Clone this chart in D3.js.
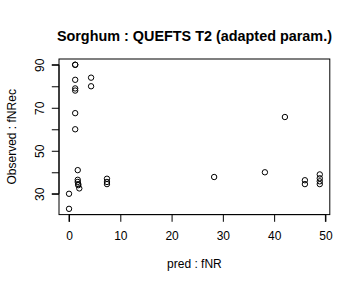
<!DOCTYPE html>
<html>
<head>
<meta charset="utf-8">
<script src="https://cdn.jsdelivr.net/npm/d3@7"></script>
<style>
  body { margin: 0; background: #fff; }
  svg text { font-family: "Liberation Sans", Arial, sans-serif; fill: #000; }
</style>
</head>
<body>
<svg id="svgRoot" width="360" height="288"></svg>
<script>
// predicted vs observed fNRec
const pred = [0, 0, 1.2, 1.2, 1.2, 1.2, 1.2, 1.2, 1.2, 4.3, 4.3,
  1.7, 1.7, 1.7, 1.8, 1.8, 2.0, 7.4, 7.4, 7.4,
  28.3, 38.2, 42.1, 46.0, 46.0, 48.9, 48.9, 48.9, 48.9]
const obs = [23, 30, 90, 90, 83, 79, 78, 67.5, 60, 84, 80,
  41, 36.5, 35.5, 34.5, 34, 32.5, 37, 35.5, 34.5,
  37.8, 40, 65.7, 36.3, 34.5, 39, 37.2, 35.8, 34.5]

const xTicks = [0, 10, 20, 30, 40, 50]
const yTicks = [30, 40, 50, 60, 70, 80, 90]
const yTickLabels = [30, 50, 70, 90]

const title = "Sorghum : QUEFTS T2 (adapted param.)"
const xTitle = "pred : fNR"
const yTitle = "Observed : fNRec"

function draw_vis() {
  let svg = d3.select("#svgRoot")
  const margin = { top: 59, left: 59, bottom: 73.4, right: 30.2 }
  let width = 360
  let height = 288

  // R style 4% range padding
  let ext = (arr) => {
    let lo = d3.min(arr), hi = d3.max(arr), r = hi - lo
    return [lo - 0.04 * r, hi + 0.04 * r]
  }

  let scale_x = d3.scaleLinear().domain(ext(pred)).range([margin.left, width - margin.right])
  let scale_y = d3.scaleLinear().domain(ext(obs)).range([height - margin.bottom, margin.top])

  // box
  svg.append("rect")
    .attr("x", margin.left).attr("y", margin.top)
    .attr("width", width - margin.left - margin.right)
    .attr("height", height - margin.top - margin.bottom)
    .attr("fill", "none").attr("stroke", "#000").attr("stroke-width", 1)

  let g_xAxis = svg.append("g")
    .attr("transform", "translate(0," + (height - margin.bottom) + ")")
    .call(d3.axisBottom(scale_x).tickValues(xTicks).tickSize(7.2).tickPadding(10))
  g_xAxis.select(".domain").attr("d", "M" + scale_x(xTicks[0]) + ",7.2V0H" + scale_x(xTicks[xTicks.length - 1]) + "V7.2")
  g_xAxis.selectAll("text").attr("font-size", 12).attr("font-family", null)

  let g_yAxis = svg.append("g")
    .attr("transform", "translate(" + margin.left + ",0)")
    .call(d3.axisLeft(scale_y).tickValues(yTicks).tickSize(7.2)
      .tickFormat((d) => yTickLabels.includes(d) ? d : ""))
  g_yAxis.select(".domain").attr("d", "M-7.2," + scale_y(yTicks[0]) + "H0V" + scale_y(yTicks[yTicks.length - 1]) + "H-7.2")
  g_yAxis.selectAll("text")
    .attr("font-size", 12).attr("font-family", null)
    .attr("x", 0)
    .attr("text-anchor", "middle")
    .attr("transform", "translate(-19,0) rotate(-90)")
    .attr("y", 0)
    .attr("dy", "0.35em")

  svg.selectAll(".domain, .tick line").attr("stroke", "#000")

  // points
  svg.append("g").selectAll("circle")
    .data(pred.map((d, i) => [d, obs[i]]))
    .enter()
    .append("circle")
    .attr("cx", (d) => scale_x(d[0]))
    .attr("cy", (d) => scale_y(d[1]))
    .attr("r", 2.7)
    .attr("fill", "none")
    .attr("stroke", "#000")
    .attr("stroke-width", 1)

  svg.append("text")
    .attr("x", (margin.left + width - margin.right) / 2).attr("y", 41)
    .attr("text-anchor", "middle").attr("font-size", 14.4).attr("font-weight", "bold")
    .text(title)

  svg.append("text")
    .attr("x", (margin.left + width - margin.right) / 2).attr("y", 268)
    .attr("text-anchor", "middle").attr("font-size", 12)
    .text(xTitle)

  svg.append("text")
    .attr("transform", "translate(16," + (margin.top + height - margin.bottom) / 2 + ") rotate(-90)")
    .attr("text-anchor", "middle").attr("font-size", 12)
    .text(yTitle)
}

draw_vis()
</script>
</body>
</html>
